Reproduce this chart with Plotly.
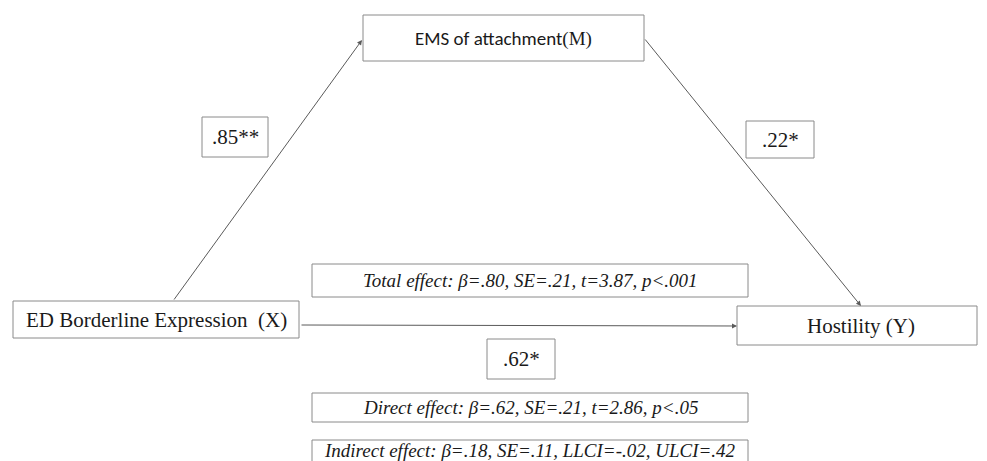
import plotly.graph_objects as go

# ---- data ----
node_labels = ["EMS of attachment", "ED Borderline Expression", "Hostility"]
node_tags = ["M", "X", "Y"]
path_names = ["a", "b", "c'"]
path_coef = [0.85, 0.22, 0.62]
path_sig = ["**", "*", "*"]
effect_names = ["Total effect", "Direct effect", "Indirect effect"]
effect_beta = [0.80, 0.62, 0.18]
effect_se = [0.21, 0.21, 0.11]
effect_extra = ["t=3.87, p<.001", "t=2.86, p<.05", "LLCI=-.02, ULCI=.42"]


def fmt(v):
    s = f"{abs(v):.2f}"[1:]
    return ("-" if v < 0 else "") + s


# ---- layout geometry (pixels of the window) ----
W, H = 987, 461
OFF = 8  # default page margin of the html body
serif = "Liberation Serif, Times New Roman, serif"
sans = "Carlito, Liberation Sans, Arial, sans-serif"
box_col = "#8a8a8a"
txt_col = "#1a1a1a"

node_boxes = [(363, 15, 644, 61), (13, 301, 299, 338), (737, 306, 977, 345)]
path_boxes = [(202, 117, 268, 157), (746, 121, 814, 158), (487, 339, 555, 379)]
effect_boxes = [(312, 264, 748, 297), (312, 393, 748, 422), (312, 440, 748, 470)]
arrows = [((173, 301), (362, 40)), ((644, 38), (861, 306)), ((300, 325), (737, 326))]

fig = go.Figure()
fig.add_trace(go.Scatter(x=[OFF, W], y=[OFF, H], mode="markers",
                         marker=dict(opacity=0), hoverinfo="skip", showlegend=False))

shapes = []
annotations = []


def rect(b):
    shapes.append(dict(type="rect", xref="x", yref="y", x0=b[0], y0=b[1], x1=b[2], y1=b[3],
                       line=dict(color=box_col, width=1), fillcolor="rgba(0,0,0,0)"))


def label(b, text, family, size, italic=False, x=None, y=None):
    annotations.append(dict(x=(b[0] + b[2]) / 2 if x is None else x,
                            y=(b[1] + b[3]) / 2 if y is None else y,
                            xref="x", yref="y",
                            text=f"<i>{text}</i>" if italic else text, showarrow=False,
                            xanchor="center", yanchor="middle",
                            font=dict(family=family, size=size, color=txt_col)))


# nodes
for i, (lab, tag) in enumerate(zip(node_labels, node_tags)):
    b = node_boxes[i]
    rect(b)
    if i == 0:
        t = f"{lab}<span style='font-family:Liberation Serif'>({tag})</span>"
        label(b, t, sans, 19)
    elif i == 1:
        label(b, f"{lab}  ({tag})", serif, 21)
    else:
        label(b, f"{lab} ({tag})", serif, 21, x=861)

# paths
for i, (c, s) in enumerate(zip(path_coef, path_sig)):
    b = path_boxes[i]
    rect(b)
    label(b, fmt(c) + s, serif, 21)

# effects
for i, name in enumerate(effect_names):
    b = effect_boxes[i]
    rect(b)
    t = f"{name}: β={fmt(effect_beta[i])}, SE={fmt(effect_se[i])}, {effect_extra[i]}"
    label(b, t, serif, 19, italic=True, y=450 if i == 2 else None)

# arrows
for (x0, y0), (x1, y1) in arrows:
    annotations.append(dict(x=x1, y=y1, ax=x0, ay=y0, xref="x", yref="y", axref="x", ayref="y",
                            text="", showarrow=True, arrowhead=2, arrowsize=1.0,
                            arrowwidth=1, arrowcolor="#5a5a5a", standoff=0))

fig.update_layout(
    width=W - OFF, height=H - OFF, margin=dict(l=0, r=0, t=0, b=0),
    paper_bgcolor="white", plot_bgcolor="white",
    xaxis=dict(range=[OFF, W], visible=False, fixedrange=True),
    yaxis=dict(range=[H, OFF], visible=False, fixedrange=True),
    shapes=shapes, annotations=annotations, showlegend=False,
)
fig.write_html("out.html", config={"displayModeBar": False})
